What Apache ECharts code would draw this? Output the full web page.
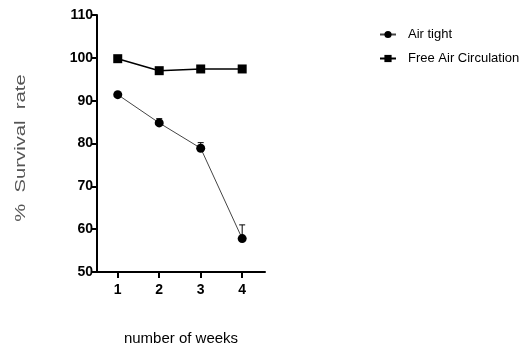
<!DOCTYPE html>
<html><head><meta charset="utf-8">
<script src="https://cdn.jsdelivr.net/npm/echarts@6/dist/echarts.min.js"></script>
<style>html,body{margin:0;padding:0;background:#fff}#c{width:528px;height:351px}</style>
</head><body><div id="c"></div>
<script>
const weeks = [1, 2, 3, 4];
const airTight = [91.4, 84.8, 78.9, 57.8];
const airTightErr = [0.5, 1.0, 1.3, 3.2];
const freeAir = [99.8, 97.0, 97.4, 97.4];
const freeAirErr = [0.3, 0.3, 0.3, 0.3];
const yTicks = [50, 60, 70, 80, 90, 100, 110];
const yTitle = '%  Survival  rate';

const narrow = '"Liberation Sans Narrow", "Liberation Sans", Arial, sans-serif';
const chart = echarts.init(document.getElementById('c'));

function errSeries(vals, errs) {
  return {
    type: 'custom',
    silent: true,
    z: 1,
    data: weeks.map((w, i) => [w, vals[i], vals[i] + errs[i]]),
    renderItem: function (params, api) {
      const p0 = api.coord([api.value(0), api.value(1)]);
      const p1 = api.coord([api.value(0), api.value(2)]);
      return {
        type: 'group',
        children: [
          { type: 'line', shape: { x1: p0[0], y1: p0[1], x2: p1[0], y2: p1[1] }, style: { stroke: '#000', lineWidth: 1 } },
          { type: 'line', shape: { x1: p1[0] - 3, y1: p1[1], x2: p1[0] + 3, y2: p1[1] }, style: { stroke: '#000', lineWidth: 1 } }
        ]
      };
    }
  };
}

chart.setOption({
  animation: false,
  grid: { left: 97, right: 263, top: 15, bottom: 72, containLabel: false },
  graphic: [{
    type: 'text', x: 21, y: 148, rotation: Math.PI / 2, scaleX: 1.35,
    style: { text: yTitle, align: 'center', verticalAlign: 'middle', fill: '#555',
      font: '15px Arial, "Liberation Sans", sans-serif' }
  }],
  legend: {
    orient: 'vertical',
    left: 374, top: 23,
    itemGap: 11,
    itemWidth: 16, itemHeight: 9,
    textStyle: { fontFamily: narrow, fontSize: 13, color: '#000', padding: [0, 0, 0, 7] },
    data: ['Air tight', 'Free Air Circulation']
  },
  xAxis: {
    type: 'value', min: 0.5, max: 4.55,
    name: 'number of weeks', nameLocation: 'middle', nameGap: 59,
    nameTextStyle: { fontFamily: narrow, fontSize: 15, color: '#000' },
    axisLine: { lineStyle: { color: '#000', width: 2 } },
    axisTick: { show: true, length: 6, lineStyle: { color: '#000', width: 2 }, customValues: weeks },
    axisLabel: { customValues: weeks, fontFamily: narrow, fontWeight: 'bold', fontSize: 14, color: '#000', margin: 11 },
    splitLine: { show: false }
  },
  yAxis: {
    type: 'value', min: 50, max: 110, interval: 10,
    axisLine: { show: true, lineStyle: { color: '#000', width: 2 } },
    axisTick: { show: true, length: 5, lineStyle: { color: '#000', width: 2 } },
    axisLabel: { fontFamily: narrow, fontWeight: 'bold', fontSize: 14, color: '#000', margin: 4 },
    splitLine: { show: false }
  },
  series: [
    errSeries(airTight, airTightErr),
    errSeries(freeAir, freeAirErr),
    {
      name: 'Air tight', type: 'line', z: 3,
      data: weeks.map((w, i) => [w, airTight[i]]),
      symbol: 'circle', symbolSize: 9,
      itemStyle: { color: '#000' },
      lineStyle: { color: '#444', width: 1 }
    },
    {
      name: 'Free Air Circulation', type: 'line', z: 3,
      data: weeks.map((w, i) => [w, freeAir[i]]),
      symbol: 'rect', symbolSize: [9, 9],
      itemStyle: { color: '#000' },
      lineStyle: { color: '#000', width: 1.5 }
    }
  ]
});
</script></body></html>
